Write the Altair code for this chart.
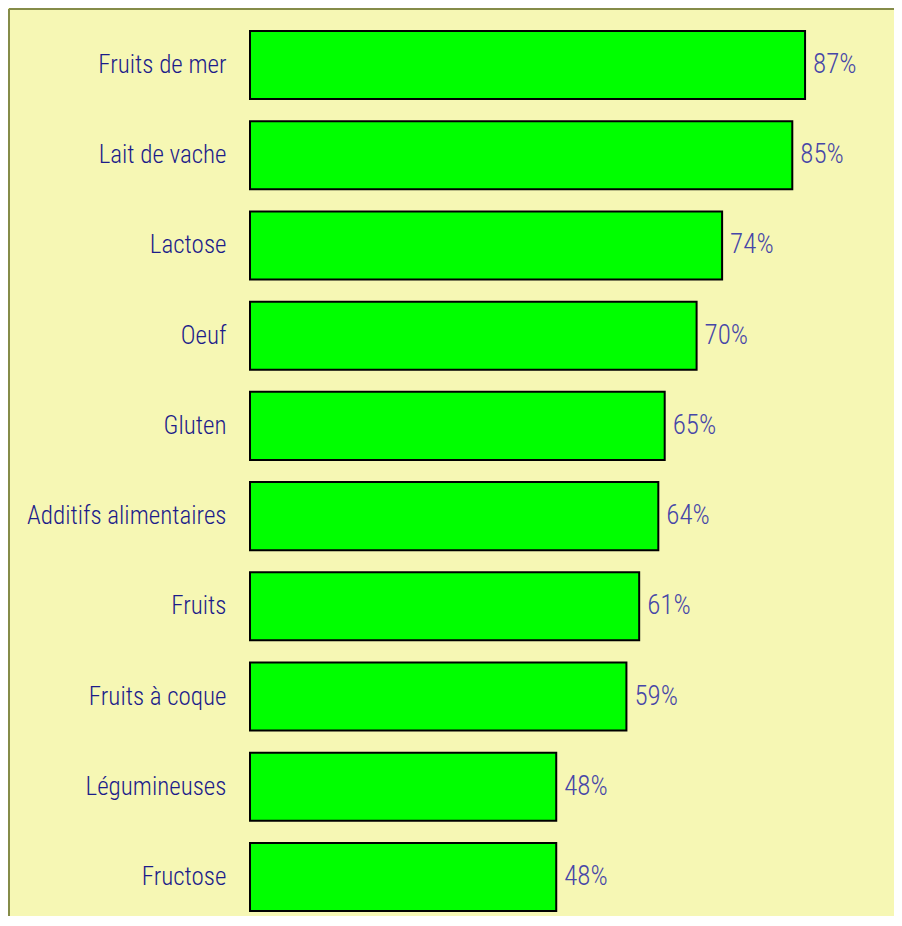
import altair as alt
import pandas as pd

categories = ["Fruits de mer", "Lait de vache", "Lactose", "Oeuf", "Gluten",
              "Additifs alimentaires", "Fruits", "Fruits à coque", "Légumineuses", "Fructose"]
values = [87, 85, 74, 70, 65, 64, 61, 59, 48, 48]
labels = [f"{v}%" for v in values]

df = pd.DataFrame({"cat": categories, "val": values, "lab": labels})

BG = "#f6f7b4"
FONT = "Roboto Condensed"

y_enc = alt.Y("cat:N", sort=categories,
              scale=alt.Scale(paddingInner=0.245, paddingOuter=0),
              axis=alt.Axis(title="", domain=False, ticks=False, tickSize=0, grid=False,
                            labelFont=FONT, labelFontSize=25, labelFontWeight=300,
                            labelColor="#1c1c8a", labelPadding=24, labelLimit=0))
x_enc = alt.X("val:Q", scale=alt.Scale(domain=[0, 100]), axis=None)

base = alt.Chart(df)
bars = base.mark_bar(color="#00ff00", stroke="#000000", strokeWidth=2).encode(x=x_enc, y=y_enc)
text = base.mark_text(align="left", baseline="middle", dx=8, font=FONT, fontSize=27,
                      fontWeight=300, color="#4646a8").encode(x=x_enc, y=y_enc, text="lab:N")

frame_df = pd.DataFrame({"k": [0]})
top_line = alt.Chart(frame_df).mark_rule(color="#858c48", strokeWidth=2).encode(
    x=alt.value(-241), x2=alt.value(700), y=alt.value(-22))
left_line = alt.Chart(frame_df).mark_rule(color="#858c48", strokeWidth=2).encode(
    x=alt.value(-241), y=alt.value(-22), y2=alt.value(900))

chart = alt.layer(bars, text, top_line, left_line).properties(
    width=638, height=880,
    autosize=alt.AutoSizeParams(type="none"),
    padding={"top": 23, "left": 242, "right": 6, "bottom": 5},
    background=BG,
).configure_view(stroke="transparent")

chart.save("out.html", embed_options={"renderer": "svg", "actions": False})
